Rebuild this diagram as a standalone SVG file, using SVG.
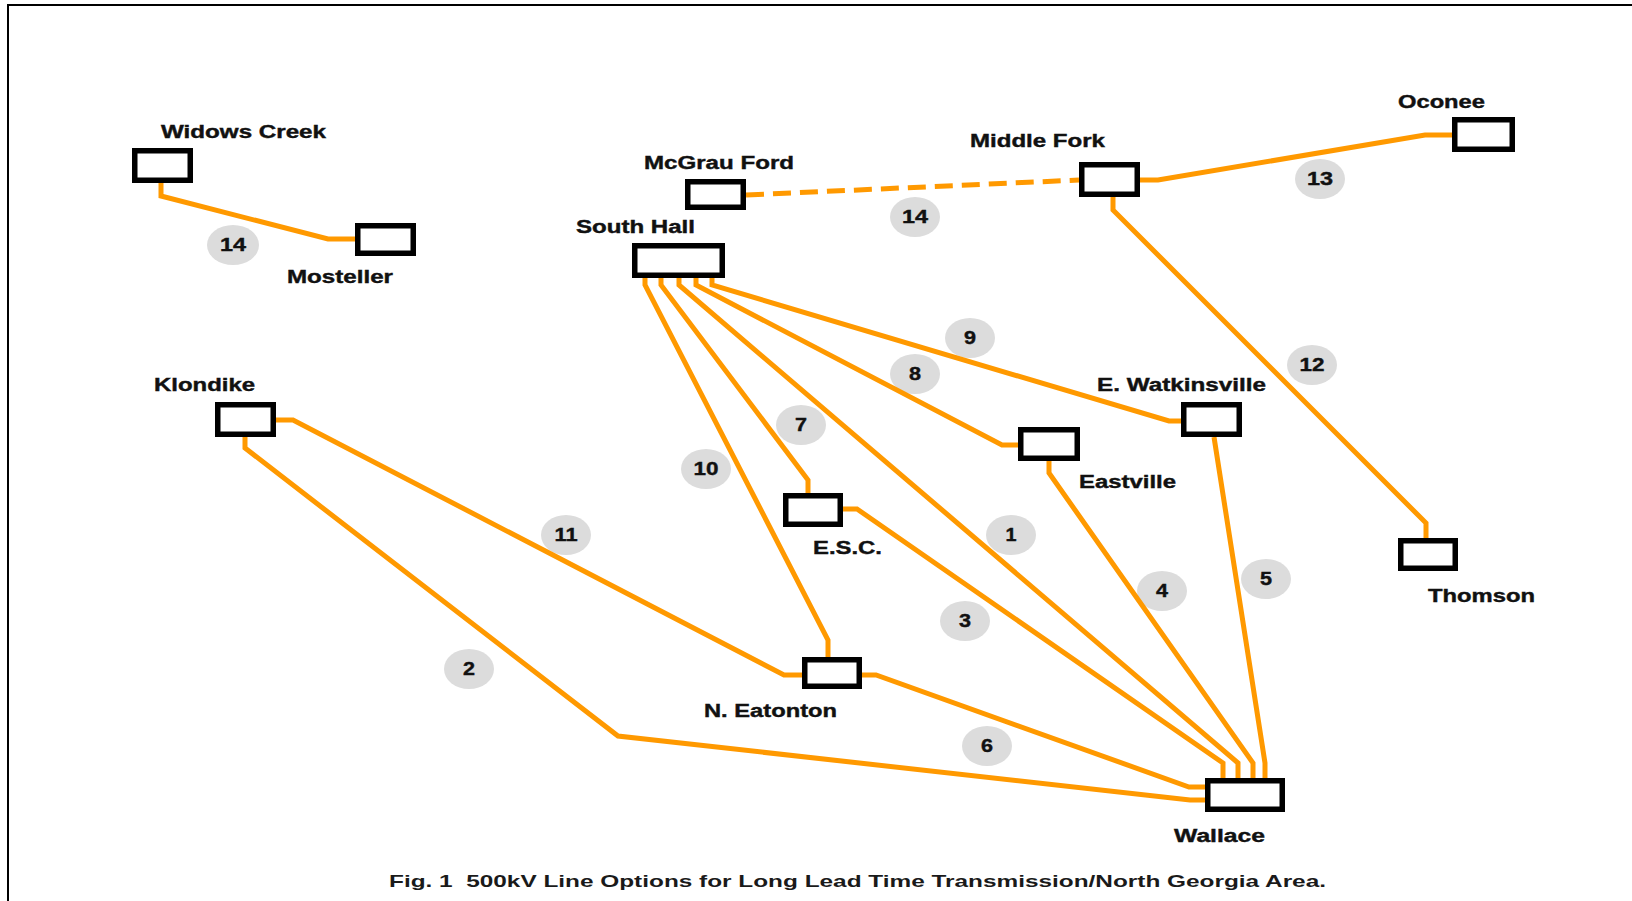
<svg xmlns="http://www.w3.org/2000/svg" width="1632" height="901" viewBox="0 0 1632 901">
<style>
.frame{fill:none;stroke:#000;stroke-width:2}
.box{fill:#fff;stroke:#000;stroke-width:5.5}
.ln{fill:none;stroke:#FF9900;stroke-width:5;stroke-linejoin:miter}
.dash{stroke-dasharray:18 9}
.lab{font-family:"Liberation Sans",Arial,sans-serif;font-weight:bold;font-size:18px;fill:#111;stroke:#111;stroke-width:0.4}
.bub{fill:#DCDCDC}
.num{font-family:"Liberation Sans",Arial,sans-serif;font-weight:bold;font-size:18px;fill:#111;stroke:#111;stroke-width:0.4;text-anchor:middle}
.cap{font-family:"Liberation Sans",Arial,sans-serif;font-weight:bold;font-size:17px;fill:#1a1a1a}
</style>
<rect width="1632" height="901" fill="#fff"/>
<path class="frame" d="M8 901 V5 H1632"/>

<g id="bubbles">
<ellipse class="bub" cx="233" cy="245" rx="26" ry="20"/>
<ellipse class="bub" cx="915" cy="217" rx="25" ry="20"/>
<ellipse class="bub" cx="1320" cy="179" rx="25" ry="20"/>
<ellipse class="bub" cx="1312" cy="365" rx="25" ry="20"/>
<ellipse class="bub" cx="970" cy="338" rx="25" ry="20"/>
<ellipse class="bub" cx="915" cy="374" rx="25" ry="20"/>
<ellipse class="bub" cx="801" cy="425" rx="25" ry="20"/>
<ellipse class="bub" cx="706" cy="469" rx="25" ry="20"/>
<ellipse class="bub" cx="1011" cy="535" rx="25" ry="20"/>
<ellipse class="bub" cx="566" cy="535" rx="25" ry="20"/>
<ellipse class="bub" cx="1162" cy="591" rx="25" ry="20"/>
<ellipse class="bub" cx="1266" cy="579" rx="25" ry="20"/>
<ellipse class="bub" cx="965" cy="621" rx="25" ry="20"/>
<ellipse class="bub" cx="469" cy="669" rx="25" ry="20"/>
<ellipse class="bub" cx="987" cy="746" rx="25" ry="20"/>
</g>

<g id="connectors">
<path class="ln" d="M161 183 V196 L328 239 H355"/>
<path class="ln dash" d="M746 195 L1079 180"/>
<path class="ln" d="M1140 180 H1158 L1425 135 H1452"/>
<path class="ln" d="M1113 197 V210 L1426 523 V538"/>
<path class="ln" d="M645 278 V285 L828 640 V657"/>
<path class="ln" d="M661 278 V285 L808 480 V493"/>
<path class="ln" d="M679 278 V285 L1238 763 V778"/>
<path class="ln" d="M696 278 V285 L1002 445 H1018"/>
<path class="ln" d="M712 278 V285 L1169 421 H1181"/>
<path class="ln" d="M843 509 H857 L1223 763 V778"/>
<path class="ln" d="M1049 461 V473 L1253 763 V778"/>
<path class="ln" d="M1214 437 L1265 763 V778"/>
<path class="ln" d="M862 675 H876 L1189 787 H1205"/>
<path class="ln" d="M245 437 V448 L618 736 L1190 800 H1205"/>
<path class="ln" d="M276 420 H293 L784 675 H802"/>
</g>

<g id="numbers">
<text class="num" x="233" y="251" textLength="26" lengthAdjust="spacingAndGlyphs">14</text>
<text class="num" x="915" y="223" textLength="26" lengthAdjust="spacingAndGlyphs">14</text>
<text class="num" x="1320" y="185" textLength="26" lengthAdjust="spacingAndGlyphs">13</text>
<text class="num" x="1312" y="371" textLength="25" lengthAdjust="spacingAndGlyphs">12</text>
<text class="num" x="970" y="344" textLength="12" lengthAdjust="spacingAndGlyphs">9</text>
<text class="num" x="915" y="380" textLength="12" lengthAdjust="spacingAndGlyphs">8</text>
<text class="num" x="801" y="431" textLength="12" lengthAdjust="spacingAndGlyphs">7</text>
<text class="num" x="706" y="475" textLength="25" lengthAdjust="spacingAndGlyphs">10</text>
<text class="num" x="1011" y="541" textLength="11" lengthAdjust="spacingAndGlyphs">1</text>
<text class="num" x="566" y="541" textLength="23" lengthAdjust="spacingAndGlyphs">11</text>
<text class="num" x="1162" y="597" textLength="12" lengthAdjust="spacingAndGlyphs">4</text>
<text class="num" x="1266" y="585" textLength="12" lengthAdjust="spacingAndGlyphs">5</text>
<text class="num" x="965" y="627" textLength="12" lengthAdjust="spacingAndGlyphs">3</text>
<text class="num" x="469" y="675" textLength="12" lengthAdjust="spacingAndGlyphs">2</text>
<text class="num" x="987" y="752" textLength="12" lengthAdjust="spacingAndGlyphs">6</text>
</g>

<g id="widows-creek">
<rect class="box" x="134.75" y="150.75" width="55.5" height="29.5"/>
<text class="lab" x="161" y="138" textLength="165" lengthAdjust="spacingAndGlyphs">Widows Creek</text>
</g>
<g id="mosteller">
<rect class="box" x="357.75" y="225.75" width="55.5" height="27.5"/>
<text class="lab" x="287" y="283" textLength="106" lengthAdjust="spacingAndGlyphs">Mosteller</text>
</g>
<g id="mcgrau-ford">
<rect class="box" x="687.75" y="181.75" width="55.5" height="25.5"/>
<text class="lab" x="644" y="169" textLength="150" lengthAdjust="spacingAndGlyphs">McGrau Ford</text>
</g>
<g id="south-hall">
<rect class="box" x="634.75" y="245.75" width="87.5" height="29.5"/>
<text class="lab" x="576" y="233" textLength="119" lengthAdjust="spacingAndGlyphs">South Hall</text>
</g>
<g id="middle-fork">
<rect class="box" x="1081.75" y="164.75" width="55.5" height="29.5"/>
<text class="lab" x="970" y="147" textLength="135" lengthAdjust="spacingAndGlyphs">Middle Fork</text>
</g>
<g id="oconee">
<rect class="box" x="1454.75" y="119.75" width="57.5" height="29.5"/>
<text class="lab" x="1398" y="108" textLength="87" lengthAdjust="spacingAndGlyphs">Oconee</text>
</g>
<g id="klondike">
<rect class="box" x="217.75" y="404.75" width="55.5" height="29.5"/>
<text class="lab" x="154" y="391" textLength="101" lengthAdjust="spacingAndGlyphs">Klondike</text>
</g>
<g id="e-watkinsville">
<rect class="box" x="1183.75" y="404.75" width="55.5" height="29.5"/>
<text class="lab" x="1097" y="391" textLength="169" lengthAdjust="spacingAndGlyphs">E. Watkinsville</text>
</g>
<g id="eastville">
<rect class="box" x="1020.75" y="429.75" width="56.5" height="28.5"/>
<text class="lab" x="1079" y="488" textLength="97" lengthAdjust="spacingAndGlyphs">Eastville</text>
</g>
<g id="esc">
<rect class="box" x="785.75" y="495.75" width="54.5" height="28.5"/>
<text class="lab" x="813" y="554" textLength="69" lengthAdjust="spacingAndGlyphs">E.S.C.</text>
</g>
<g id="thomson">
<rect class="box" x="1400.75" y="540.75" width="54.5" height="27.5"/>
<text class="lab" x="1428" y="602" textLength="107" lengthAdjust="spacingAndGlyphs">Thomson</text>
</g>
<g id="n-eatonton">
<rect class="box" x="804.75" y="659.75" width="54.5" height="26.5"/>
<text class="lab" x="704" y="717" textLength="133" lengthAdjust="spacingAndGlyphs">N. Eatonton</text>
</g>
<g id="wallace">
<rect class="box" x="1207.75" y="780.75" width="74.5" height="28.5"/>
<text class="lab" x="1174" y="842" textLength="91" lengthAdjust="spacingAndGlyphs">Wallace</text>
</g>

<text class="cap" x="389" y="887" textLength="937" lengthAdjust="spacingAndGlyphs" xml:space="preserve">Fig. 1  500kV Line Options for Long Lead Time Transmission/North Georgia Area.</text>
</svg>
